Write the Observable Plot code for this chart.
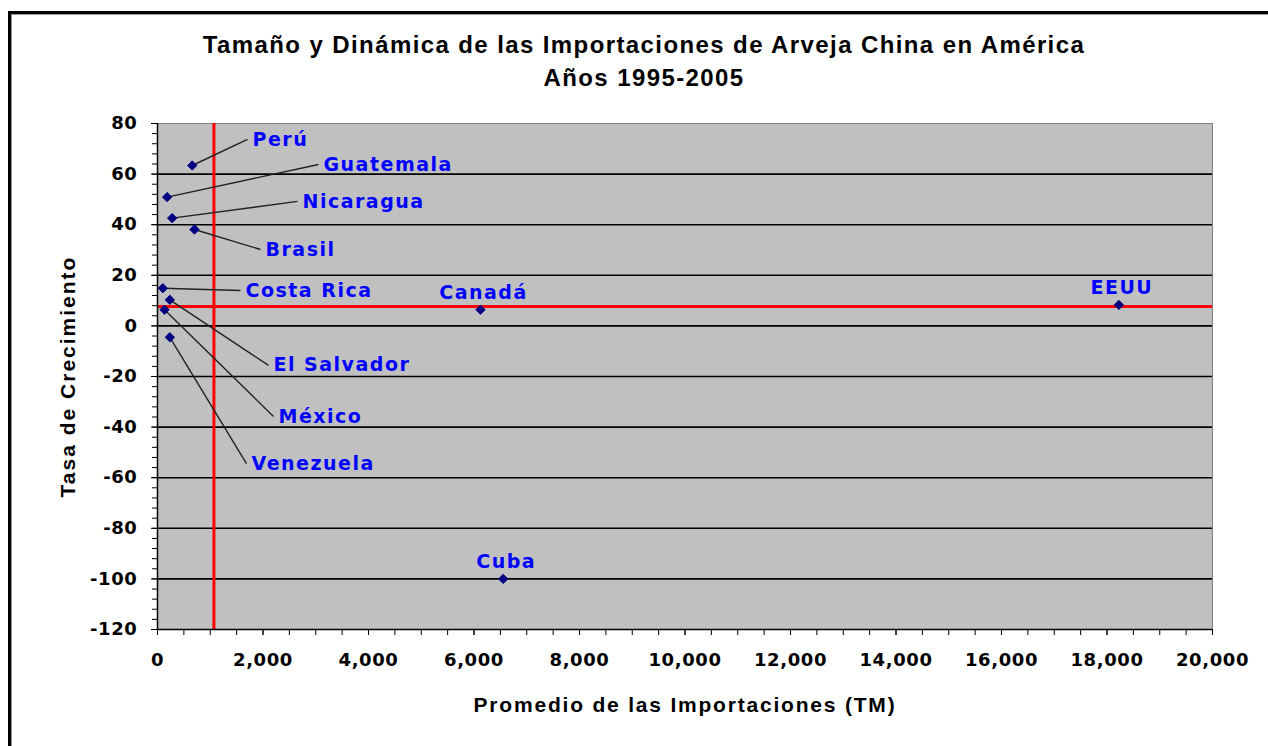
<!DOCTYPE html>
<html>
<head>
<meta charset="utf-8">
<script src="https://cdn.jsdelivr.net/npm/d3@7"></script>
<script src="https://cdn.jsdelivr.net/npm/@observablehq/plot@0.6"></script>
<style>
  html, body { margin: 0; padding: 0; background: #ffffff; }
  #wrap { position: relative; width: 1268px; height: 746px; overflow: hidden; background: #fff; }
  #frame { position: absolute; left: 8px; top: 11px; width: 1400px; height: 900px;
           border-left: 3px solid #000; border-top: 3px solid #000; box-shadow: inset 1px 1px 0 #999; }
  #title { position: absolute; left: 0; top: 28px; width: 1288px; text-align: center;
           font-family: "Liberation Sans", Arial, sans-serif; font-weight: bold; font-size: 24px;
           letter-spacing: 1.4px; line-height: 33px; color: #000; }
  #chart { position: absolute; left: 0; top: 0; }
  .blue-label text { letter-spacing: 1.5px; }
  .tick-lbl text { letter-spacing: 0.6px; }
</style>
</head>
<body>
<div id="wrap">
  <div id="frame"></div>
  <div id="chart"></div>
  <div id="title">Tamaño y Dinámica de las Importaciones de Arveja China en América<br>Años 1995-2005</div>
</div>
<script>
// ---- data ----
const countries = ["Perú", "Guatemala", "Nicaragua", "Brasil", "Costa Rica", "El Salvador", "México", "Venezuela", "Canadá", "EEUU", "Cuba"];
const imports   = [658, 183, 278, 701, 101, 234, 133, 234, 6123, 18225, 6553];
const growth    = [63.4, 50.9, 42.6, 38.1, 14.9, 10.3, 6.4, -4.5, 6.4, 8.3, -100];
// leader-line end points (data units) for labels placed away from their point
const leaderX   = [1706, 3052, 2654, 1953, 1573, 2104, 2199, 1687, null, null, null];
const leaderY   = [73.7, 63.8, 49.2, 30.2, 14.0, -15.6, -35.8, -54.4, null, null, null];
const refImports = 1070;   // vertical red reference line
const refGrowth  = 7.7;    // horizontal red reference line
const xMajorTicks = d3.range(0, 20001, 2000);
const xMinorTicks = d3.range(0, 20001, 500);
const yMajorTicks = d3.range(-120, 81, 20);
const yMinorTicks = d3.range(-120, 81, 4);
const gridValues  = d3.range(-100, 61, 20);
const xTitle = "Promedio de las Importaciones (TM)";
const yTitle = "Tasa de Crecimiento";

const rows = countries.map((c, i) => ({
  country: c, x: imports[i], y: growth[i], lx: leaderX[i], ly: leaderY[i]
}));
const leadered = rows.filter(d => d.lx != null);
const direct = rows.filter(d => d.lx == null);

const fmt = d3.format(",");
const font = "DejaVu Sans, Verdana, sans-serif";
const titleFont = "Liberation Sans, Arial, sans-serif";

const chart = Plot.plot({
  width: 1268,
  height: 746,
  marginLeft: 157,
  marginRight: 56,
  marginTop: 123,
  marginBottom: 117,
  style: { fontFamily: font, fontWeight: "bold", background: "transparent", overflow: "visible" },
  x: { domain: [0, 20000] },
  y: { domain: [-120, 80] },
  marks: [
    Plot.frame({ fill: "#c0c0c0", stroke: "#808080" }),
    Plot.gridY(gridValues, { stroke: "#000", strokeOpacity: 1, strokeWidth: 1.6 }),
    Plot.ruleX([refImports], { stroke: "#ff0000", strokeWidth: 3 }),
    Plot.ruleY([refGrowth], { stroke: "#ff0000", strokeWidth: 3 }),
    Plot.link(leadered, { x1: "x", y1: "y", x2: "lx", y2: "ly", stroke: "#222", strokeWidth: 1.4 }),
    Plot.dot(rows, { x: "x", y: "y", symbol: "diamond2", r: 4.2, fill: "#000080", stroke: "#000080", strokeWidth: 1 }),
    Plot.text(leadered, { x: "lx", y: "ly", text: "country", textAnchor: "start", dx: 5, dy: 0,
      fill: "#0000ff", fontSize: 19, fontWeight: "bold", fontFamily: font, className: "blue-label" }),
    Plot.text(direct, { x: "x", y: "y", text: "country", textAnchor: "middle", dy: -17, dx: 3,
      fill: "#0000ff", fontSize: 19, fontWeight: "bold", fontFamily: font, className: "blue-label" }),
    // axes
    Plot.ruleX([0], { stroke: "#000", strokeWidth: 1.5 }),
    Plot.ruleY([-120], { stroke: "#000", strokeWidth: 1.5 }),
    Plot.axisY(yMinorTicks, { tickSize: 5, text: null, label: null, stroke: "#000" }),
    Plot.axisY(yMajorTicks, { tickSize: 6, tickPadding: 14, fontSize: 18, fill: "#000",
      tickFormat: d => d, label: null, className: "tick-lbl" }),
    Plot.axisY({ ticks: [], label: yTitle, labelAnchor: "center", labelArrow: "none",
      labelOffset: 97, fontSize: 21, fontFamily: titleFont }),
    Plot.axisX(xMinorTicks, { tickSize: 6, text: null, label: null, stroke: "#000" }),
    Plot.axisX(xMajorTicks, { tickSize: 6, tickPadding: 18, fontSize: 18, fill: "#000",
      tickFormat: fmt, label: null, className: "tick-lbl" }),
    Plot.axisX({ ticks: [], label: xTitle, labelAnchor: "center", labelArrow: "none",
      labelOffset: 82, fontSize: 21, fontFamily: titleFont })
  ]
});
d3.select(chart).selectAll("text")
  .filter(function () { return this.textContent === xTitle; })
  .style("letter-spacing", "1.8px").style("font-size", "21px").style("font-family", titleFont);
d3.select(chart).selectAll("text")
  .filter(function () { return this.textContent === yTitle; })
  .style("letter-spacing", "2px").style("font-size", "21px").style("font-family", titleFont);
document.getElementById("chart").appendChild(chart);
</script>
</body>
</html>
